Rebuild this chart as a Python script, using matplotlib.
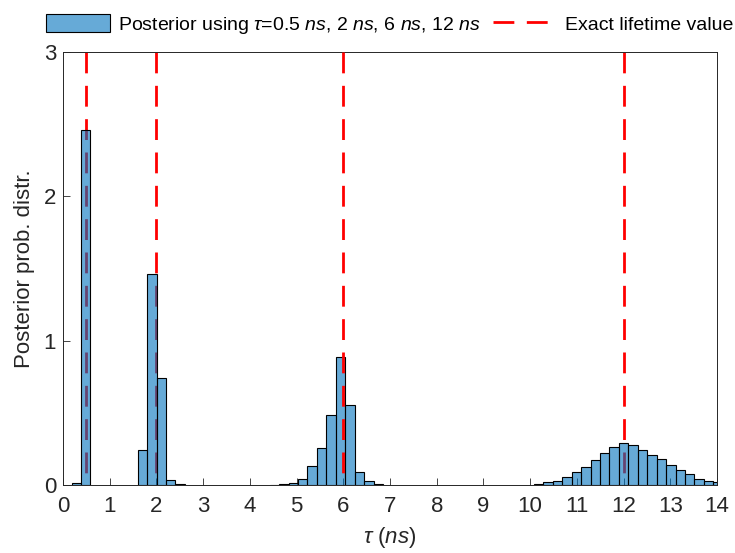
import numpy as np
import matplotlib
matplotlib.use('Agg')
import matplotlib.pyplot as plt

# histogram bins (ns)
BIN_START = 0.184
BIN_WIDTH = 0.202
# posterior density per bin
DENSITY = [
    0.012, 2.46, 0, 0, 0, 0, 0, 0.243, 1.46, 0.74,
    0.035, 0.005, 0, 0, 0, 0, 0, 0, 0, 0,
    0, 0.003, 0.004, 0.016, 0.044, 0.134, 0.258, 0.483, 0.89, 0.556,
    0.09, 0.026, 0.008, 0, 0, 0, 0, 0, 0, 0,
    0, 0, 0, 0, 0, 0, 0, 0, 0, 0.008,
    0.02, 0.03, 0.055, 0.092, 0.122, 0.17, 0.225, 0.26, 0.291, 0.277,
    0.245, 0.208, 0.177, 0.14, 0.104, 0.073, 0.042, 0.03, 0.018,
]
TRUE_TAUS = [0.5, 2, 6, 12]  # ns
YMAX = 3

plt.rcParams['font.family'] = 'Liberation Sans'
plt.rcParams['mathtext.fontset'] = 'custom'
plt.rcParams['mathtext.rm'] = 'Liberation Sans'
plt.rcParams['mathtext.it'] = 'Liberation Sans:italic'

AX_COLOR = '#262626'
DASHES = (7.5, 4.5)


def main():
    fig = plt.figure(figsize=(7.35, 5.53), dpi=100)
    ax = fig.add_axes([0.0857, 0.123, 0.8898, 0.783])

    density = np.array(DENSITY)
    left = BIN_START + BIN_WIDTH * np.arange(len(density))
    keep = density > 0

    # exact lifetimes, dashes start at the top (the 6 ns one sits over the bars)
    for tau in TRUE_TAUS:
        ax.plot([tau, tau], [YMAX, 0], color='red', lw=2.0, dashes=DASHES,
                zorder=3 if tau == 6 else 1)
    bars = ax.bar(left[keep], density[keep], width=BIN_WIDTH, align='edge',
                  facecolor=(0, 0.447, 0.741, 0.6), edgecolor='black',
                  linewidth=0.8, zorder=2)

    ax.set_xlim(0, 14)
    ax.set_ylim(0, YMAX)
    ax.set_xticks(range(0, 15))
    ax.set_yticks([0, 1, 2, 3])
    ax.tick_params(direction='in', length=5, width=0.6, colors=AX_COLOR,
                   labelsize=16, pad=5)
    ax.tick_params(axis='x', pad=8)
    for s in ax.spines.values():
        s.set_color(AX_COLOR)
        s.set_linewidth(0.7)

    ax.set_xlabel(r'$\tau$ ($ns$)', fontsize=16, color=AX_COLOR, labelpad=6)
    ax.set_ylabel('Posterior prob. distr.', fontsize=16, color=AX_COLOR,
                  labelpad=6)

    line_handle = plt.Line2D([], [], color='red', lw=2.0, dashes=DASHES)
    fig.legend([bars, line_handle],
               [r'Posterior using $\tau$=0.5 $ns$, 2 $ns$, 6 $ns$, 12 $ns$',
                'Exact lifetime value'],
               loc='center', bbox_to_anchor=(0.53, 0.955), ncol=2,
               frameon=False, fontsize=14, handlelength=3.3, handleheight=1.05,
               handletextpad=0.4, columnspacing=0.6)

    fig.savefig('out.png', dpi=100)


if __name__ == "__main__":
    main()
